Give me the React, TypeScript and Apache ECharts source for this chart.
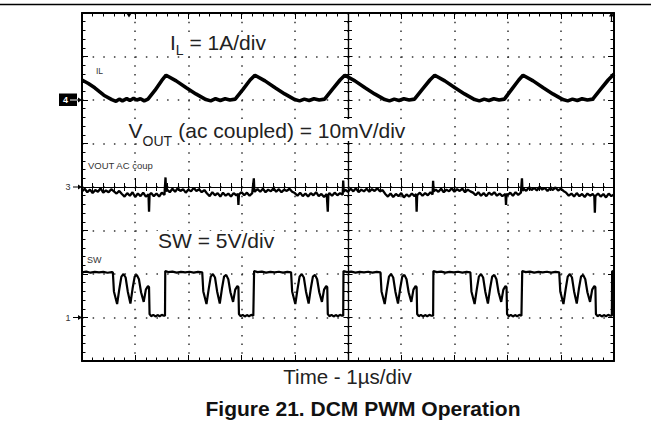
import React, { useEffect, useRef } from 'react';
import * as echarts from 'echarts';

const FONT = '"Liberation Sans", Arial, Helvetica, sans-serif';

// Screen: 10 horizontal divisions at 1 µs/div, 8 vertical divisions
const TIME_MIN = 0;
const TIME_MAX = 10;
const DIV_MIN = 0;
const DIV_MAX = 8;

// Channel 4 — inductor current IL in A (1 A/div, marker "4" at division 6)
const IL_A: [number, number][] = [
  [0.00, 0.46], [0.12, 0.38], [0.24, 0.28], [0.41, 0.11], [0.56, 0.01], [0.64, -0.03], [0.70, 0.02], [0.76, -0.02],
  [0.84, 0.03], [0.90, -0.01], [0.97, 0.04], [1.03, 0.00], [1.10, 0.03], [1.17, -0.02], [1.24, 0.02], [1.37, 0.22],
  [1.50, 0.45], [1.58, 0.57],
  [1.77, 0.44], [1.96, 0.28], [2.14, 0.14], [2.33, 0.01], [2.42, -0.02], [2.51, 0.03], [2.60, -0.01], [2.69, 0.03],
  [2.78, 0.00], [2.88, 0.02], [3.03, 0.25], [3.16, 0.46], [3.25, 0.57],
  [3.44, 0.44], [3.63, 0.28], [3.81, 0.14], [4.00, 0.01], [4.09, -0.02], [4.18, 0.02], [4.27, -0.01], [4.36, 0.03],
  [4.46, 0.00], [4.56, 0.02], [4.71, 0.25], [4.85, 0.46], [4.94, 0.57],
  [5.13, 0.44], [5.32, 0.28], [5.50, 0.14], [5.69, 0.01], [5.78, -0.02], [5.87, 0.02], [5.96, -0.01], [6.05, 0.03],
  [6.15, 0.00], [6.25, 0.02], [6.40, 0.25], [6.54, 0.46], [6.63, 0.57],
  [6.82, 0.44], [7.01, 0.28], [7.19, 0.14], [7.38, 0.01], [7.47, -0.02], [7.56, 0.02], [7.65, -0.01], [7.74, 0.03],
  [7.84, 0.00], [7.94, 0.02], [8.08, 0.25], [8.21, 0.46], [8.29, 0.57],
  [8.48, 0.44], [8.67, 0.28], [8.85, 0.14], [9.04, 0.01], [9.13, -0.02], [9.22, 0.02], [9.31, -0.01], [9.40, 0.03],
  [9.50, 0.00], [9.60, 0.02], [9.75, 0.25], [9.89, 0.46], [10.0, 0.60],
];

// Channel 3 — output ripple VOUT in mV, AC coupled (10 mV/div, marker "3" at division 4)
const VOUT_MV: [number, number][] = [
  [0.00, -1.0], [0.05, -0.4], [0.10, -1.2], [0.15, -0.6], [0.20, -1.4], [0.25, -0.7], [0.30, -1.1], [0.35, -0.3],
  [0.40, -1.3], [0.45, -0.8], [0.50, -1.2], [0.55, -0.5], [0.60, -1.0], [0.65, -1.5], [0.70, -0.9],
  [0.75, -1.6], [0.80, -2.2], [0.85, -1.4], [0.90, -2.0], [0.95, -1.2], [1.00, -2.3], [1.05, -1.5], [1.10, -2.1],
  [1.15, -1.3], [1.20, -2.2], [1.25, -1.7], [1.26, -5.7], [1.27, -1.8], [1.30, -1.4], [1.35, -2.1], [1.40, -1.5],
  [1.45, -2.2], [1.50, -1.3], [1.55, -1.8], [1.57, 2.2], [1.58, -1.0],
  [1.60, -0.6], [1.65, -1.2], [1.70, -0.4], [1.75, -1.1], [1.80, -0.3], [1.85, -0.9], [1.90, -0.5], [1.95, -1.3],
  [2.00, -0.6], [2.05, -1.0], [2.10, -0.2], [2.15, -0.9], [2.20, -0.5], [2.25, -1.2], [2.30, -0.7],
  [2.35, -1.5], [2.40, -2.1], [2.45, -1.2], [2.50, -1.9], [2.55, -1.4], [2.60, -2.2], [2.65, -1.3], [2.70, -2.0],
  [2.75, -1.5], [2.80, -2.2], [2.85, -1.4], [2.90, -1.9], [2.93, -1.6], [2.94, -4.1], [2.95, -1.7], [3.00, -1.2],
  [3.05, -1.9], [3.10, -1.3], [3.15, -2.0], [3.20, -1.4], [3.23, 2.0], [3.24, -1.1],
  [3.30, -0.5], [3.35, -1.1], [3.40, -0.4], [3.45, -1.2], [3.50, -0.6], [3.55, -1.0], [3.60, -0.3], [3.65, -1.1],
  [3.70, -0.5], [3.75, -1.2], [3.80, -0.6], [3.85, -0.9], [3.90, -0.4], [3.95, -1.1],
  [4.00, -1.4], [4.05, -2.0], [4.10, -1.3], [4.15, -2.1], [4.20, -1.5], [4.25, -2.2], [4.30, -1.4], [4.35, -1.9],
  [4.40, -1.2], [4.45, -2.1], [4.50, -1.6], [4.55, -2.3], [4.60, -1.6], [4.62, -5.7], [4.63, -1.9], [4.65, -1.4],
  [4.70, -2.0], [4.75, -1.3], [4.80, -1.9], [4.85, -1.4], [4.90, -1.8], [4.91, 1.5], [4.92, -1.1],
  [4.95, -0.6], [5.00, -1.1], [5.05, -0.4], [5.10, -1.0], [5.15, -0.3], [5.20, -1.2], [5.25, -0.6], [5.30, -1.0],
  [5.35, -0.4], [5.40, -1.1], [5.45, -0.5], [5.50, -0.9], [5.55, -0.3], [5.60, -1.0], [5.65, -0.7],
  [5.70, -1.6], [5.75, -2.2], [5.80, -1.5], [5.85, -2.3], [5.90, -1.6], [5.95, -2.1], [6.00, -1.4], [6.05, -2.4],
  [6.10, -1.7], [6.15, -2.2], [6.20, -1.5], [6.25, -2.1], [6.28, -1.6], [6.29, -5.7], [6.30, -1.9], [6.35, -1.3],
  [6.40, -2.0], [6.45, -1.4], [6.50, -1.9], [6.55, -1.2], [6.59, -1.7], [6.60, 1.4], [6.61, -1.0],
  [6.65, -0.6], [6.70, -1.1], [6.75, -0.4], [6.80, -1.2], [6.85, -0.6], [6.90, -1.0], [6.95, -0.3], [7.00, -1.1],
  [7.05, -0.5], [7.10, -0.9], [7.15, -0.4], [7.20, -1.2], [7.25, -0.6], [7.30, -1.0],
  [7.35, -1.3], [7.40, -1.9], [7.45, -1.2], [7.50, -2.0], [7.55, -1.4], [7.60, -2.1], [7.65, -1.3], [7.70, -1.8],
  [7.75, -1.2], [7.80, -2.0], [7.85, -1.5], [7.90, -2.1], [7.96, -1.6], [7.97, -4.1], [7.98, -1.5], [8.00, -1.9],
  [8.05, -1.3], [8.10, -2.0], [8.15, -1.2], [8.20, -1.8], [8.25, -1.3], [8.27, 2.0], [8.28, -0.9],
  [8.30, -0.4], [8.35, -0.9], [8.40, -0.1], [8.45, -0.7], [8.50, -0.2], [8.55, -0.8], [8.60, 0.0], [8.65, -0.6],
  [8.70, -0.2], [8.75, -0.9], [8.80, -0.3], [8.85, -0.7], [8.90, -0.1], [8.95, -0.8], [9.00, -0.4], [9.05, -0.9],
  [9.10, -1.3], [9.15, -2.0], [9.20, -1.5], [9.25, -2.2], [9.30, -1.4], [9.35, -2.1], [9.40, -1.6], [9.45, -2.3],
  [9.50, -1.5], [9.55, -2.0], [9.60, -1.6], [9.63, -2.1], [9.64, -5.9], [9.65, -2.1], [9.70, -1.5], [9.75, -2.2],
  [9.80, -1.6], [9.85, -2.4], [9.90, -1.5], [9.95, -2.1], [10.00, -1.7],
];

// Channel 1 — switch node SW in V (5 V/div, marker "1" at division 1)
const SW_V: [number, number][] = [
  [0.00, 5.20], [0.08, 5.28], [0.16, 5.15], [0.24, 5.25], [0.32, 5.18], [0.40, 5.24], [0.48, 5.14], [0.56, 5.22], [0.58, 5.20],
  [0.60, 3.00], [0.66, 1.55], [0.70, 3.20], [0.74, 4.70], [0.78, 5.00], [0.82, 4.60], [0.86, 3.00], [0.91, 1.60],
  [0.95, 3.30], [0.99, 4.70], [1.03, 4.90], [1.07, 4.40], [1.11, 2.90], [1.16, 1.80], [1.20, 3.20], [1.24, 3.60],
  [1.26, 3.50], [1.27, 0.40], [1.30, 0.15], [1.34, 0.30], [1.38, 0.12], [1.42, 0.28], [1.46, 0.15], [1.50, 0.30], [1.54, 0.20], [1.56, 0.20],
  [1.565, 5.35], [1.62, 5.22], [1.70, 5.28], [1.78, 5.16], [1.86, 5.25], [1.94, 5.18], [2.02, 5.26], [2.10, 5.15], [2.18, 5.24], [2.26, 5.18],
  [2.28, 3.00], [2.34, 1.55], [2.38, 3.20], [2.42, 4.70], [2.46, 5.00], [2.50, 4.60], [2.54, 3.00], [2.59, 1.60],
  [2.63, 3.30], [2.67, 4.70], [2.71, 4.90], [2.75, 4.40], [2.79, 2.90], [2.84, 1.80], [2.88, 3.20], [2.92, 3.60],
  [2.94, 3.50], [2.95, 0.40], [2.98, 0.15], [3.02, 0.30], [3.06, 0.12], [3.10, 0.28], [3.14, 0.15], [3.18, 0.30], [3.22, 0.20], [3.23, 0.20],
  [3.235, 5.35], [3.30, 5.22], [3.38, 5.28], [3.46, 5.16], [3.54, 5.25], [3.62, 5.18], [3.70, 5.26], [3.78, 5.15], [3.86, 5.24], [3.93, 5.18],
  [3.95, 3.00], [4.01, 1.55], [4.05, 3.20], [4.09, 4.70], [4.13, 5.00], [4.17, 4.60], [4.21, 3.00], [4.26, 1.60],
  [4.30, 3.30], [4.34, 4.70], [4.38, 4.90], [4.42, 4.40], [4.46, 2.90], [4.51, 1.80], [4.55, 3.20], [4.59, 3.60],
  [4.61, 3.50], [4.62, 0.40], [4.65, 0.15], [4.69, 0.30], [4.73, 0.12], [4.77, 0.28], [4.81, 0.15], [4.85, 0.30], [4.89, 0.20], [4.91, 0.20],
  [4.915, 5.35], [4.98, 5.22], [5.06, 5.28], [5.14, 5.16], [5.22, 5.25], [5.30, 5.18], [5.38, 5.26], [5.46, 5.15], [5.54, 5.24], [5.61, 5.18],
  [5.63, 3.00], [5.69, 1.55], [5.73, 3.20], [5.77, 4.70], [5.81, 5.00], [5.85, 4.60], [5.89, 3.00], [5.94, 1.60],
  [5.98, 3.30], [6.02, 4.70], [6.06, 4.90], [6.10, 4.40], [6.14, 2.90], [6.19, 1.80], [6.23, 3.20], [6.27, 3.60],
  [6.29, 3.50], [6.30, 0.40], [6.33, 0.15], [6.37, 0.30], [6.41, 0.12], [6.45, 0.28], [6.49, 0.15], [6.53, 0.30], [6.57, 0.20], [6.60, 0.20],
  [6.605, 5.35], [6.67, 5.22], [6.75, 5.28], [6.83, 5.16], [6.91, 5.25], [6.99, 5.18], [7.07, 5.26], [7.15, 5.15], [7.23, 5.24], [7.30, 5.18],
  [7.32, 3.00], [7.38, 1.55], [7.42, 3.20], [7.46, 4.70], [7.50, 5.00], [7.54, 4.60], [7.58, 3.00], [7.63, 1.60],
  [7.67, 3.30], [7.71, 4.70], [7.75, 4.90], [7.79, 4.40], [7.83, 2.90], [7.88, 1.80], [7.92, 3.20], [7.96, 3.60],
  [7.98, 3.50], [7.99, 0.40], [8.02, 0.15], [8.06, 0.30], [8.10, 0.12], [8.14, 0.28], [8.18, 0.15], [8.22, 0.30], [8.26, 0.20], [8.27, 0.20],
  [8.275, 5.35], [8.34, 5.22], [8.42, 5.28], [8.50, 5.16], [8.58, 5.25], [8.66, 5.18], [8.74, 5.26], [8.82, 5.15], [8.90, 5.24], [8.97, 5.18],
  [8.99, 3.00], [9.05, 1.55], [9.09, 3.20], [9.13, 4.70], [9.17, 5.00], [9.21, 4.60], [9.25, 3.00], [9.30, 1.60],
  [9.34, 3.30], [9.38, 4.70], [9.42, 4.90], [9.46, 4.40], [9.50, 2.90], [9.55, 1.80], [9.59, 3.20], [9.63, 3.60],
  [9.65, 3.50], [9.66, 0.40], [9.69, 0.15], [9.73, 0.30], [9.77, 0.12], [9.81, 0.28], [9.85, 0.15], [9.89, 0.30], [9.93, 0.20], [9.96, 0.20],
  [9.965, 5.35], [10.0, 5.22],
];

// channel reference level (division) and units per division
const IL_SCALE = { ref: 6, perDiv: 1 };
const VOUT_SCALE = { ref: 4, perDiv: 10 };
const SW_SCALE = { ref: 1, perDiv: 5 };

// texts
const IL_LABEL = ['I', 'L', ' = 1A/div'];
const VOUT_LABEL = ['V', 'OUT', ' (ac coupled) = 10mV/div'];
const SW_LABEL = 'SW = 5V/div';
const X_TITLE = 'Time - 1µs/div';
const CAPTION = 'Figure 21. DCM PWM Operation';
const SCOPE_TAGS = ['IL', 'VOUT AC coup', 'SW'];
const CHANNEL_MARKS = ['4', '3', '1'];

const toDivs = (pts: [number, number][], sc: { ref: number; perDiv: number }) =>
  pts.map(([t, v]) => [t, sc.ref + v / sc.perDiv]);

const BLACK = '#000';
const TXT = '#222';

function borderAxis(extra: any, min: number, max: number, split: any) {
  return {
    type: 'value',
    min,
    max,
    interval: 1,
    z: 0,
    axisLine: { show: true, onZero: false, lineStyle: { color: BLACK, width: 2 } },
    axisTick: { show: true, inside: true, length: 6, lineStyle: { color: BLACK, width: 1 } },
    minorTick: { show: true, splitNumber: 5, length: 3.5, lineStyle: { color: BLACK, width: 1 } },
    axisLabel: { show: false },
    splitLine: split,
    minorSplitLine: { show: false },
    ...extra,
  };
}

function centerAxis(extra: any, min: number, max: number, inside: boolean, majorLen: number) {
  return {
    type: 'value',
    min,
    max,
    interval: 1,
    z: 0,
    axisLine: { show: true, onZero: true, onZeroAxisIndex: 2, lineStyle: { color: BLACK, width: 1.2 } },
    axisTick: { show: true, inside, length: majorLen, lineStyle: { color: BLACK, width: 1 } },
    minorTick: { show: true, splitNumber: 5, length: 4, lineStyle: { color: BLACK, width: 1 } },
    axisLabel: { show: false },
    splitLine: { show: false },
    minorSplitLine: { show: false },
    ...extra,
  };
}

function txt(x: number, y: number, text: string, size: number, opts: any = {}) {
  return {
    type: 'text',
    x,
    y,
    silent: true,
    z: 120,
    style: {
      text,
      fontSize: size,
      fontFamily: FONT,
      fill: opts.fill || TXT,
      fontWeight: opts.weight || 'normal',
      align: opts.align || 'left',
      verticalAlign: 'middle',
    },
  };
}

function mask(x: number, y: number, w: number, h: number) {
  return { type: 'rect', silent: true, z: 110, shape: { x, y, width: w, height: h }, style: { fill: '#fff' } };
}

function arrow(x1: number, x2: number, y: number, color: string) {
  return [
    { type: 'line', silent: true, z: 120, shape: { x1, y1: y, x2: x2 - 3, y2: y }, style: { stroke: color, lineWidth: 1 } },
    {
      type: 'polygon',
      silent: true,
      z: 120,
      shape: { points: [[x2 - 4, y - 2.5], [x2, y], [x2 - 4, y + 2.5]] },
      style: { fill: color },
    },
  ];
}

export default function App() {
  const ref = useRef<HTMLDivElement>(null);

  useEffect(() => {
    if (!ref.current) return;
    const chart = echarts.init(ref.current, undefined, { renderer: 'svg' });

    const vDots = { show: true, lineStyle: { color: '#333', width: 1.5, type: [1.5, 7.2] } };
    const hDots = { show: true, lineStyle: { color: '#333', width: 1.5, type: [1.5, 9.14] } };

    const graphics: any[] = [
      { type: 'line', silent: true, shape: { x1: 0, y1: 4.5, x2: 651, y2: 4.5 }, style: { stroke: BLACK, lineWidth: 1.6 } },
      // white boxes behind the channel labels hide the graticule
      mask(167, 33, 102, 21),
      mask(125, 119, 286, 22),
      mask(140, 133, 34, 16),
      mask(155, 231, 120, 19),
      // channel labels
      txt(170, 42.5, IL_LABEL[0], 21),
      txt(183.6, 42.5, IL_LABEL[2], 21),
      txt(175.8, 50, IL_LABEL[1], 14),
      txt(128.5, 130.5, VOUT_LABEL[0], 21),
      txt(172.5, 130.5, VOUT_LABEL[2], 21),
      txt(142.5, 141, VOUT_LABEL[1], 14),
      txt(158, 240.5, SW_LABEL, 21),
      // scope trace tags
      txt(96, 71.3, SCOPE_TAGS[0], 8.5, { fill: '#333' }),
      txt(88, 165, SCOPE_TAGS[1], 9.5, { fill: '#333' }),
      txt(87, 259.5, SCOPE_TAGS[2], 9, { fill: '#333' }),
      // channel markers
      { type: 'rect', silent: true, z: 115, shape: { x: 59, y: 93.5, width: 18, height: 12.5 }, style: { fill: BLACK } },
      txt(65.5, 100, CHANNEL_MARKS[0], 9, { fill: '#fff', align: 'center', weight: 'bold' }),
      { type: 'line', silent: true, z: 120, shape: { x1: 70, y1: 100, x2: 77, y2: 100 }, style: { stroke: '#fff', lineWidth: 1 } },
      ...arrow(77, 82, 100, BLACK),
      txt(68, 187, CHANNEL_MARKS[1], 9, { fill: '#333', align: 'center' }),
      ...arrow(73, 82, 187, BLACK),
      txt(68, 317.5, CHANNEL_MARKS[2], 9, { fill: '#333', align: 'center' }),
      ...arrow(73, 82, 317.5, BLACK),
      // trigger position marker (top) and trigger level marker (right)
      { type: 'polygon', silent: true, z: 120, shape: { points: [[125.5, 12], [132.5, 12], [129, 17.5]] }, style: { fill: BLACK } },
      { type: 'polygon', silent: true, z: 120, shape: { points: [[609, 16.5], [614, 16.5], [611.5, 12]] }, style: { fill: BLACK } },
      { type: 'line', silent: true, z: 120, shape: { x1: 611.5, y1: 16, x2: 611.5, y2: 21 }, style: { stroke: BLACK, lineWidth: 1.2 } },
      // axis title and caption
      txt(347.5, 376.5, X_TITLE, 20.5, { fill: TXT, align: 'center' }),
      txt(363, 408.5, CAPTION, 21, { fill: '#111', align: 'center', weight: 'bold' }),
    ];

    chart.setOption({
      animation: false,
      grid: { left: 82, right: 57, top: 13, bottom: 78, containLabel: false },
      xAxis: [
        borderAxis({ position: 'bottom' }, TIME_MIN, TIME_MAX, vDots),
        borderAxis({ position: 'top' }, TIME_MIN, TIME_MAX, { show: false }),
        centerAxis({ position: 'bottom' }, -5, 5, false, 4),
        centerAxis({ position: 'bottom' }, -5, 5, true, 9),
      ],
      yAxis: [
        borderAxis({ position: 'left' }, DIV_MIN, DIV_MAX, hDots),
        borderAxis({ position: 'right' }, DIV_MIN, DIV_MAX, { show: false }),
        centerAxis({ position: 'left' }, -4, 4, false, 4.5),
        centerAxis({ position: 'left' }, -4, 4, true, 4.5),
      ],
      series: [
        {
          type: 'line',
          name: 'IL',
          xAxisIndex: 0,
          yAxisIndex: 0,
          data: toDivs(IL_A, IL_SCALE),
          showSymbol: false,
          symbol: 'none',
          lineStyle: { color: BLACK, width: 3.6 },
          z: 5,
        },
        {
          type: 'line',
          name: 'VOUT',
          xAxisIndex: 0,
          yAxisIndex: 0,
          data: toDivs(VOUT_MV, VOUT_SCALE),
          showSymbol: false,
          symbol: 'none',
          lineStyle: { color: BLACK, width: 2.3 },
          z: 5,
        },
        {
          type: 'line',
          name: 'SW',
          xAxisIndex: 0,
          yAxisIndex: 0,
          data: toDivs(SW_V, SW_SCALE),
          showSymbol: false,
          symbol: 'none',
          lineStyle: { color: BLACK, width: 2.2 },
          z: 5,
        },
      ],
      graphic: { elements: graphics },
    });

    return () => chart.dispose();
  }, []);

  return (
    <div
      ref={ref}
      style={{ position: 'fixed', left: 0, top: 0, width: 671, height: 439, background: '#fff' }}
    />
  );
}
